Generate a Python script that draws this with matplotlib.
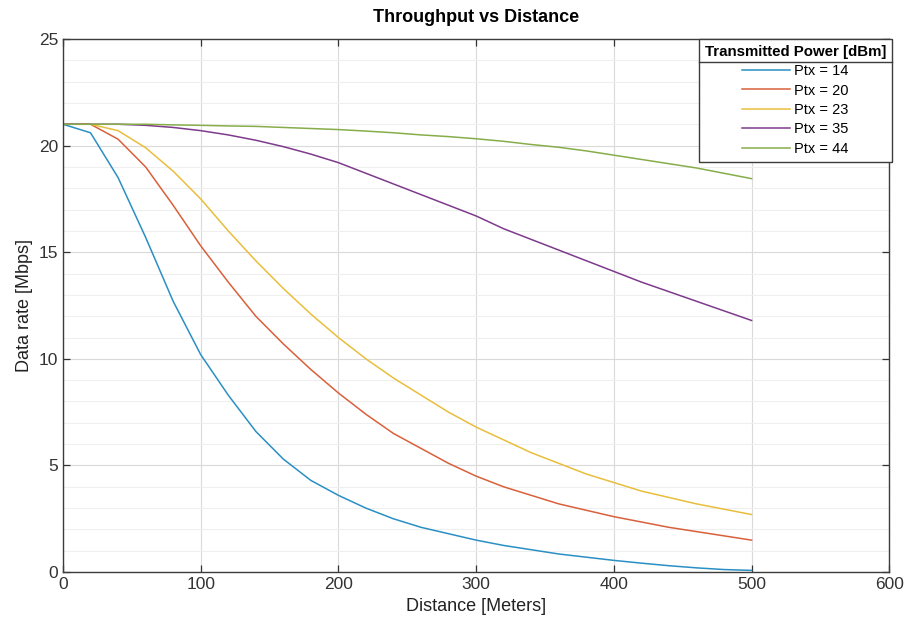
import matplotlib
matplotlib.use("Agg")
import matplotlib.pyplot as plt
from matplotlib.lines import Line2D
from matplotlib.ticker import MultipleLocator

plt.rcParams['font.family'] = ['Liberation Sans', 'DejaVu Sans']

# distance samples (m)
distance = [0, 20, 40, 60, 80, 100, 120, 140, 160, 180, 200, 220, 240, 260,
            280, 300, 320, 340, 360, 380, 400, 420, 440, 460, 480, 500]

rate_14 = [21.0, 20.6, 18.5, 15.7, 12.7, 10.2, 8.3, 6.6, 5.3, 4.3, 3.6, 3.0, 2.5,
           2.1, 1.8, 1.5, 1.25, 1.05, 0.85, 0.7, 0.55, 0.42, 0.3, 0.2, 0.12, 0.08]
rate_20 = [21.0, 21.0, 20.3, 19.0, 17.2, 15.3, 13.6, 12.0, 10.7, 9.5, 8.4, 7.4, 6.5,
           5.8, 5.1, 4.5, 4.0, 3.6, 3.2, 2.9, 2.6, 2.35, 2.1, 1.9, 1.7, 1.5]
rate_23 = [21.0, 21.0, 20.7, 19.9, 18.8, 17.5, 16.0, 14.6, 13.3, 12.1, 11.0, 10.0, 9.1,
           8.3, 7.5, 6.8, 6.2, 5.6, 5.1, 4.6, 4.2, 3.8, 3.5, 3.2, 2.95, 2.7]
rate_35 = [21.0, 21.0, 21.0, 20.95, 20.85, 20.7, 20.5, 20.25, 19.95, 19.6, 19.2, 18.7,
           18.2, 17.7, 17.2, 16.7, 16.1, 15.6, 15.1, 14.6, 14.1, 13.6, 13.15, 12.7, 12.25, 11.8]
rate_44 = [21.0, 21.0, 21.0, 21.0, 20.97, 20.95, 20.92, 20.9, 20.85, 20.8, 20.75, 20.68,
           20.6, 20.5, 20.42, 20.32, 20.2, 20.05, 19.92, 19.75, 19.55, 19.35, 19.15,
           18.95, 18.7, 18.45]

series = [rate_14, rate_20, rate_23, rate_35, rate_44]
labels = ["Ptx = 14", "Ptx = 20", "Ptx = 23", "Ptx = 35", "Ptx = 44"]
colors = ["#2a8fc4", "#d9603a", "#e8be3c", "#7e3a8c", "#86ad4a"]

fig = plt.figure(figsize=(9.06, 6.28), dpi=100)
ax = fig.add_axes([0.0695, 0.089, 0.912, 0.849])

for y, lab, c in zip(series, labels, colors):
    ax.plot(distance, y, color=c, lw=1.1, label=lab)

ax.set_xlim(0, 600)
ax.set_ylim(0, 25)
ax.xaxis.set_major_locator(MultipleLocator(100))
ax.yaxis.set_major_locator(MultipleLocator(5))
ax.yaxis.set_minor_locator(MultipleLocator(1))
ax.grid(True, which='major', color='#dadada', lw=0.8)
ax.grid(True, which='minor', axis='y', color='#efefef', lw=0.8)
ax.set_axisbelow(True)
ax.tick_params(which='major', direction='in', top=True, right=True, length=5,
               labelsize=12.5, colors='#333333', width=0.9)
ax.tick_params(which='minor', length=0)
for s in ax.spines.values():
    s.set_color('#3c3c3c')
    s.set_linewidth(1.0)

ax.set_xlabel("Distance [Meters]", fontsize=13, color='#222222')
ax.set_ylabel("Data rate [Mbps]", fontsize=13, color='#222222')
ax.set_title("Throughput vs Distance", fontsize=13, fontweight='bold', pad=12)

leg = ax.legend(loc='upper right', bbox_to_anchor=(1.003, 1.0), borderaxespad=0,
                title="Transmitted Power [dBm]", fontsize=10.5, handlelength=3.3,
                handletextpad=0.3, labelspacing=0.37, fancybox=False, framealpha=1,
                edgecolor='#3c3c3c', borderpad=0.4)
leg.get_title().set_fontweight('bold')
leg.get_title().set_fontsize(10.8)
leg.get_frame().set_linewidth(1.0)

# separator line under legend title
fig.canvas.draw()
r = fig.canvas.get_renderer()
fb = leg.get_frame().get_window_extent(r)
tb = leg.get_title().get_window_extent(r)
ysep = tb.y0 - 3
inv = fig.transFigure.inverted()
(x0, y0) = inv.transform((fb.x0, ysep))
(x1, _) = inv.transform((fb.x1, ysep))
fig.add_artist(Line2D([x0, x1], [y0, y0], color='#3c3c3c', lw=1.0, zorder=10))

fig.savefig("out.png", dpi=100)
